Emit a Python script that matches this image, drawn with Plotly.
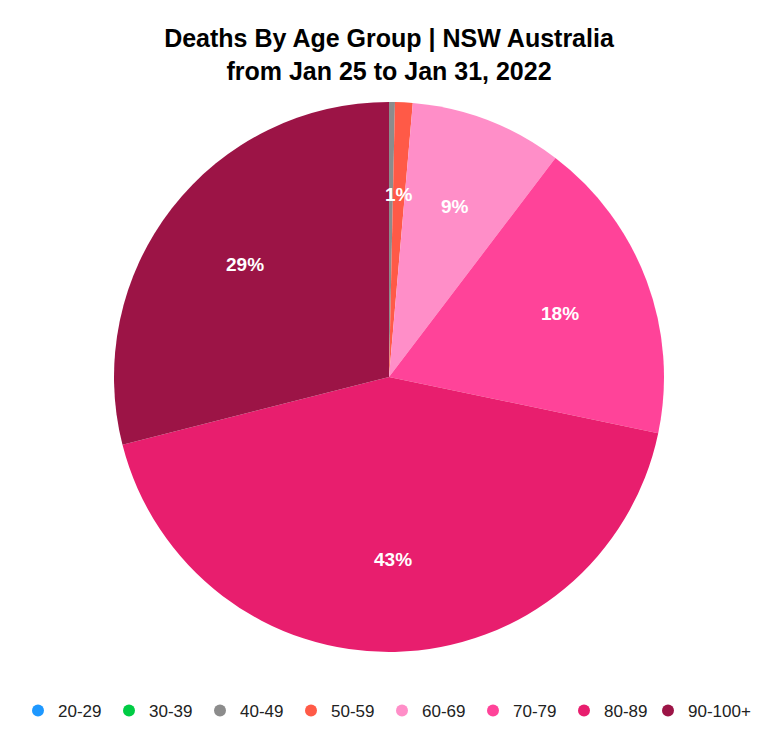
import math
import plotly.graph_objects as go

# Deaths by age group, NSW, 25-31 Jan 2022
age_groups = ["20-29", "30-39", "40-49", "50-59", "60-69", "70-79", "80-89", "90-100+"]
deaths = [0, 0, 1, 3, 26, 52, 124, 84]
colors = ["#1E98FF", "#00CC44", "#8C8C8C", "#FF5A47", "#FF8EC8", "#FF4399",
          "#E81E6E", "#9C1446"]

FONT = "Liberation Sans, Arial, Helvetica, sans-serif"
W, H = 772, 738
ML, MR, MT, MB = 20, 20, 102, 86
PW = W - ML - MR
# pie occupies pixels 114..664 horizontally
dom_x = [(114 - ML) / PW, (664 - ML) / PW]

fig = go.Figure()
fig.add_trace(go.Pie(
    labels=age_groups,
    values=deaths,
    marker=dict(colors=colors, line=dict(width=0)),
    sort=False,
    direction="clockwise",
    rotation=0,
    textinfo="none",
    hoverinfo="label+value+percent",
    showlegend=False,
    domain=dict(x=dom_x, y=[0, 1]),
))

# Circle markers for the legend; the last (longest) entry gets its own box
for i, (name, col) in enumerate(zip(age_groups, colors)):
    fig.add_trace(go.Scatter(
        x=[None], y=[None], mode="markers", name=name,
        marker=dict(symbol="circle", size=14, color=col),
        showlegend=True, hoverinfo="skip",
        legend="legend2" if i == len(age_groups) - 1 else "legend",
    ))

# Percentage labels placed at each slice's mid-angle
total = sum(deaths)
cum = 0
annotations = []
cx = (dom_x[0] + dom_x[1]) / 2
half_w = (dom_x[1] - dom_x[0]) / 2
for v in deaths:
    start = cum
    cum += v
    pct = round(100 * v / total)
    if pct == 0:
        continue
    mid = (start + v / 2) / total * 2 * math.pi
    r = 0.665
    annotations.append(dict(
        x=cx + r * half_w * math.sin(mid), y=0.5 + r * 0.5 * math.cos(mid),
        xref="paper", yref="paper", text=f"<b>{pct}%</b>", showarrow=False,
        font=dict(family=FONT, size=19, color="white"),
        xanchor="center", yanchor="middle",
    ))

legend_common = dict(
    orientation="h", xanchor="left",
    y=1 - 711 / H, yanchor="middle",
    xref="container", yref="container",
    font=dict(family=FONT, size=17, color="#222222"),
    itemsizing="constant",
)

fig.update_layout(
    width=W, height=H,
    margin=dict(l=ML, r=MR, t=MT, b=MB, autoexpand=False),
    paper_bgcolor="white", plot_bgcolor="white",
    title=dict(
        text="<b>Deaths By Age Group | NSW Australia<br>from Jan 25 to Jan 31, 2022</b>",
        x=389 / W, xref="container", y=1 - 47 / H, yref="container",
        xanchor="center", yanchor="middle",
        font=dict(family=FONT, size=25, color="black"),
    ),
    xaxis=dict(visible=False), yaxis=dict(visible=False),
    legend=dict(x=18 / W, entrywidth=46, entrywidthmode="pixels", **legend_common),
    legend2=dict(x=648 / W, **legend_common),
    annotations=annotations,
    showlegend=True,
)

fig.write_html("out.html")
